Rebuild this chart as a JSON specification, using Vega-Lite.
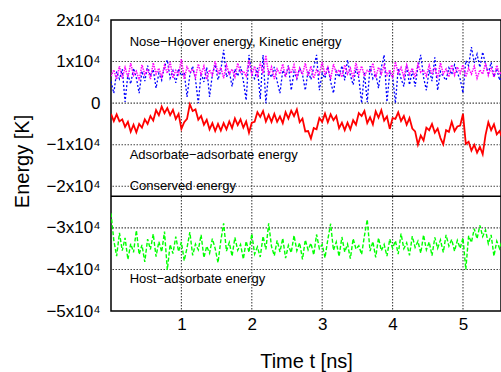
{
  "$schema": "https://vega.github.io/schema/vega-lite/v6.json",
  "autosize": "none",
  "padding": {"left": 111, "top": 20, "right": 0, "bottom": 61},
  "width": 390,
  "height": 291,
  "config": {
    "font": "Liberation Sans",
    "view": {"stroke": "#000000", "strokeWidth": 1.5},
    "axis": {
      "labelFont": "Liberation Sans", "titleFont": "Liberation Sans",
      "labelColor": "#000000", "titleColor": "#000000",
      "labelFontSize": 17, "titleFontSize": 20, "titleFontWeight": "normal",
      "domain": false, "grid": false, "ticks": false, "tickSize": 0
    }
  },
  "datasets": {
    "series": [
      {"t":0.00,"nh":5200,"ke":6500,"aa":-2600,"ha":-26500},
      {"t":0.04,"nh":2400,"ke":8000,"aa":-4300,"ha":-33000},
      {"t":0.08,"nh":7600,"ke":5700,"aa":-2700,"ha":-36800},
      {"t":0.12,"nh":5800,"ke":8900,"aa":-4400,"ha":-31200},
      {"t":0.16,"nh":8200,"ke":6000,"aa":-3900,"ha":-35500},
      {"t":0.20,"nh":300,"ke":8600,"aa":-5700,"ha":-32400},
      {"t":0.24,"nh":6900,"ke":6200,"aa":-4500,"ha":-37600},
      {"t":0.28,"nh":4600,"ke":9600,"aa":-6900,"ha":-33800},
      {"t":0.32,"nh":8400,"ke":6700,"aa":-5200,"ha":-35900},
      {"t":0.36,"nh":6100,"ke":7700,"aa":-7000,"ha":-30600},
      {"t":0.40,"nh":2400,"ke":5500,"aa":-5000,"ha":-36400},
      {"t":0.44,"nh":7700,"ke":9200,"aa":-5900,"ha":-34100},
      {"t":0.48,"nh":5300,"ke":6900,"aa":-3900,"ha":-38200},
      {"t":0.52,"nh":9000,"ke":8200,"aa":-5000,"ha":-32700},
      {"t":0.56,"nh":6400,"ke":5800,"aa":-3100,"ha":-35200},
      {"t":0.60,"nh":8100,"ke":9700,"aa":-4200,"ha":-31500},
      {"t":0.64,"nh":3600,"ke":7000,"aa":-1700,"ha":-36900},
      {"t":0.68,"nh":7200,"ke":8400,"aa":-2900,"ha":-33300},
      {"t":0.72,"nh":5500,"ke":6300,"aa":-800,"ha":-35800},
      {"t":0.76,"nh":8800,"ke":9100,"aa":-2400,"ha":-30900},
      {"t":0.80,"nh":10400,"ke":7200,"aa":-1200,"ha":-40100},
      {"t":0.84,"nh":6000,"ke":9900,"aa":-2900,"ha":-34000},
      {"t":0.88,"nh":7800,"ke":6000,"aa":-1600,"ha":-36200},
      {"t":0.92,"nh":4900,"ke":7900,"aa":-3800,"ha":-32100},
      {"t":0.96,"nh":8300,"ke":6900,"aa":-2600,"ha":-35700},
      {"t":1.00,"nh":6600,"ke":10600,"aa":-6200,"ha":-33400},
      {"t":1.04,"nh":7400,"ke":5800,"aa":-4600,"ha":-37900},
      {"t":1.08,"nh":1500,"ke":8700,"aa":-3800,"ha":-34800},
      {"t":1.12,"nh":6800,"ke":7400,"aa":-300,"ha":-31000},
      {"t":1.16,"nh":8900,"ke":8200,"aa":-1900,"ha":-36600},
      {"t":1.20,"nh":5700,"ke":6200,"aa":-1500,"ha":-33900},
      {"t":1.24,"nh":0,"ke":9400,"aa":-4000,"ha":-35300},
      {"t":1.28,"nh":7300,"ke":6900,"aa":-3100,"ha":-31700},
      {"t":1.32,"nh":5100,"ke":8900,"aa":-5200,"ha":-37200},
      {"t":1.36,"nh":8600,"ke":5700,"aa":-4000,"ha":-34400},
      {"t":1.40,"nh":1500,"ke":8000,"aa":-6300,"ha":-36100},
      {"t":1.44,"nh":6900,"ke":6700,"aa":-4800,"ha":-32600},
      {"t":1.48,"nh":9300,"ke":10100,"aa":-6700,"ha":-35000},
      {"t":1.52,"nh":5600,"ke":7200,"aa":-5000,"ha":-38400},
      {"t":1.56,"nh":7900,"ke":8600,"aa":-6600,"ha":-33100},
      {"t":1.60,"nh":12800,"ke":6000,"aa":-4800,"ha":-28900},
      {"t":1.64,"nh":6300,"ke":9200,"aa":-6300,"ha":-35600},
      {"t":1.68,"nh":7700,"ke":7000,"aa":-4400,"ha":-33500},
      {"t":1.72,"nh":4000,"ke":8200,"aa":-6000,"ha":-36800},
      {"t":1.76,"nh":8200,"ke":6300,"aa":-3700,"ha":-32300},
      {"t":1.80,"nh":6500,"ke":9600,"aa":-5300,"ha":-35400},
      {"t":1.84,"nh":8800,"ke":7400,"aa":-3900,"ha":-34000},
      {"t":1.88,"nh":5400,"ke":7700,"aa":-5900,"ha":-37500},
      {"t":1.92,"nh":700,"ke":6500,"aa":-4400,"ha":-33200},
      {"t":1.96,"nh":11600,"ke":10300,"aa":-7100,"ha":-35900},
      {"t":2.00,"nh":7000,"ke":6900,"aa":-4700,"ha":-31400},
      {"t":2.04,"nh":5900,"ke":8900,"aa":-4500,"ha":-36300},
      {"t":2.08,"nh":8500,"ke":6200,"aa":-2200,"ha":-34600},
      {"t":2.12,"nh":1000,"ke":9700,"aa":-3300,"ha":-37000},
      {"t":2.16,"nh":11600,"ke":7200,"aa":-1900,"ha":-32000},
      {"t":2.20,"nh":0,"ke":11500,"aa":-4400,"ha":-35200},
      {"t":2.24,"nh":7600,"ke":6700,"aa":-2800,"ha":-28900},
      {"t":2.28,"nh":6200,"ke":8700,"aa":-4500,"ha":-34500},
      {"t":2.32,"nh":8700,"ke":5800,"aa":-2600,"ha":-36700},
      {"t":2.36,"nh":5300,"ke":8200,"aa":-4500,"ha":-33000},
      {"t":2.40,"nh":2400,"ke":7000,"aa":-3200,"ha":-35800},
      {"t":2.44,"nh":7900,"ke":9400,"aa":-4800,"ha":-32500},
      {"t":2.48,"nh":6400,"ke":6300,"aa":-2200,"ha":-37300},
      {"t":2.52,"nh":9100,"ke":8600,"aa":-3700,"ha":-34200},
      {"t":2.56,"nh":3100,"ke":7200,"aa":-1800,"ha":-36000},
      {"t":2.60,"nh":7500,"ke":9200,"aa":-3100,"ha":-31800},
      {"t":2.64,"nh":5800,"ke":6200,"aa":-1500,"ha":-35500},
      {"t":2.68,"nh":8400,"ke":8400,"aa":-4600,"ha":-33600},
      {"t":2.72,"nh":6900,"ke":6900,"aa":-3700,"ha":-37600},
      {"t":2.76,"nh":3100,"ke":9600,"aa":-6800,"ha":-32900},
      {"t":2.80,"nh":7800,"ke":6500,"aa":-6700,"ha":-35300},
      {"t":2.84,"nh":5700,"ke":8900,"aa":-8500,"ha":-33700},
      {"t":2.88,"nh":8600,"ke":6000,"aa":-6000,"ha":-36500},
      {"t":2.92,"nh":11600,"ke":8000,"aa":-6300,"ha":-31600},
      {"t":2.96,"nh":3100,"ke":7000,"aa":-3600,"ha":-35000},
      {"t":3.00,"nh":7200,"ke":9900,"aa":-4500,"ha":-34000},
      {"t":3.04,"nh":6000,"ke":6700,"aa":-2500,"ha":-37200},
      {"t":3.08,"nh":8800,"ke":8600,"aa":-4600,"ha":-32800},
      {"t":3.12,"nh":5200,"ke":5800,"aa":-2700,"ha":-29000},
      {"t":3.16,"nh":2400,"ke":9400,"aa":-4100,"ha":-35400},
      {"t":3.20,"nh":7700,"ke":7200,"aa":-3100,"ha":-33400},
      {"t":3.24,"nh":6300,"ke":8000,"aa":-6000,"ha":-36900},
      {"t":3.28,"nh":9000,"ke":6300,"aa":-4700,"ha":-32200},
      {"t":3.32,"nh":5500,"ke":9200,"aa":-6500,"ha":-35800},
      {"t":3.36,"nh":10400,"ke":7000,"aa":-4700,"ha":-33900},
      {"t":3.40,"nh":6700,"ke":8400,"aa":-6300,"ha":-37400},
      {"t":3.44,"nh":4400,"ke":6000,"aa":-4100,"ha":-32600},
      {"t":3.48,"nh":8300,"ke":9700,"aa":-5200,"ha":-35100},
      {"t":3.52,"nh":6100,"ke":6900,"aa":-2400,"ha":-34300},
      {"t":3.56,"nh":0,"ke":8900,"aa":-3100,"ha":-36400},
      {"t":3.60,"nh":7400,"ke":6500,"aa":-1900,"ha":-31900},
      {"t":3.64,"nh":200,"ke":7900,"aa":-4800,"ha":-28000},
      {"t":3.68,"nh":8900,"ke":7400,"aa":-3400,"ha":-35600},
      {"t":3.72,"nh":5900,"ke":9600,"aa":-5100,"ha":-33300},
      {"t":3.76,"nh":7100,"ke":6200,"aa":-2000,"ha":-37100},
      {"t":3.80,"nh":3600,"ke":8600,"aa":-3500,"ha":-32400},
      {"t":3.84,"nh":8600,"ke":7000,"aa":-1700,"ha":-35500},
      {"t":3.88,"nh":11600,"ke":9100,"aa":-4200,"ha":-34000},
      {"t":3.92,"nh":300,"ke":6700,"aa":-3200,"ha":-36800},
      {"t":3.96,"nh":7300,"ke":8000,"aa":-6200,"ha":-32700},
      {"t":4.00,"nh":6600,"ke":6000,"aa":-3600,"ha":-34900},
      {"t":4.04,"nh":0,"ke":9900,"aa":-3800,"ha":-33100},
      {"t":4.08,"nh":8400,"ke":7200,"aa":-2200,"ha":-36300},
      {"t":4.12,"nh":5900,"ke":8600,"aa":-4300,"ha":-31400},
      {"t":4.16,"nh":4000,"ke":6300,"aa":-3100,"ha":-35000},
      {"t":4.20,"nh":9100,"ke":9200,"aa":-5200,"ha":-33600},
      {"t":4.24,"nh":4400,"ke":6900,"aa":-3600,"ha":-36600},
      {"t":4.28,"nh":7800,"ke":8400,"aa":-6100,"ha":-32000},
      {"t":4.32,"nh":4000,"ke":6200,"aa":-6800,"ha":-34700},
      {"t":4.36,"nh":8700,"ke":9400,"aa":-10000,"ha":-33200},
      {"t":4.40,"nh":11600,"ke":7400,"aa":-7800,"ha":-36100},
      {"t":4.44,"nh":6200,"ke":7900,"aa":-9000,"ha":-31700},
      {"t":4.48,"nh":3100,"ke":6500,"aa":-5900,"ha":-35300},
      {"t":4.52,"nh":8000,"ke":9100,"aa":-6500,"ha":-33400},
      {"t":4.56,"nh":5300,"ke":6900,"aa":-5000,"ha":-36700},
      {"t":4.60,"nh":11000,"ke":8600,"aa":-7100,"ha":-32300},
      {"t":4.64,"nh":3100,"ke":6000,"aa":-6100,"ha":-34900},
      {"t":4.68,"nh":7600,"ke":9700,"aa":-8400,"ha":-32900},
      {"t":4.72,"nh":6400,"ke":7000,"aa":-9900,"ha":-35900},
      {"t":4.76,"nh":5500,"ke":8200,"aa":-6500,"ha":-31700},
      {"t":4.80,"nh":8500,"ke":6300,"aa":-6900,"ha":-34400},
      {"t":4.84,"nh":6900,"ke":9200,"aa":-4500,"ha":-32800},
      {"t":4.88,"nh":9200,"ke":6700,"aa":-6700,"ha":-35600},
      {"t":4.92,"nh":7200,"ke":8700,"aa":-5600,"ha":-33000},
      {"t":4.96,"nh":5800,"ke":7200,"aa":-5400,"ha":-34900},
      {"t":5.00,"nh":2400,"ke":9200,"aa":-2600,"ha":-32400},
      {"t":5.04,"nh":10200,"ke":6300,"aa":-9800,"ha":-40000},
      {"t":5.08,"nh":9000,"ke":8400,"aa":-9300,"ha":-31900},
      {"t":5.12,"nh":13500,"ke":7000,"aa":-11400,"ha":-33500},
      {"t":5.16,"nh":9700,"ke":8900,"aa":-10000,"ha":-30200},
      {"t":5.20,"nh":11800,"ke":6000,"aa":-11900,"ha":-32600},
      {"t":5.24,"nh":8600,"ke":8000,"aa":-10500,"ha":-29400},
      {"t":5.28,"nh":12300,"ke":7000,"aa":-12300,"ha":-32100},
      {"t":5.32,"nh":9300,"ke":9600,"aa":-7700,"ha":-30500},
      {"t":5.36,"nh":7200,"ke":6700,"aa":-4600,"ha":-33800},
      {"t":5.40,"nh":9800,"ke":8600,"aa":-6500,"ha":-31700},
      {"t":5.44,"nh":6300,"ke":6200,"aa":-5100,"ha":-36800},
      {"t":5.48,"nh":8300,"ke":9100,"aa":-7500,"ha":-33200},
      {"t":5.52,"nh":5500,"ke":6900,"aa":-6700,"ha":-35000},
      {"t":5.56,"nh":7700,"ke":8000,"aa":-8500,"ha":-32700}
    ],
    "labels": [
      {"t": 0.265, "v": 14700, "label": "Nose−Hoover energy, Kinetic energy"},
      {"t": 0.265, "v": -12500, "label": "Adsorbate−adsorbate energy"},
      {"t": 0.265, "v": -19900, "label": "Conserved energy"},
      {"t": 0.265, "v": -42200, "label": "Host−adsorbate energy"}
    ],
    "conserved": [{"v": -22380}],
    "gridx": [{"g": 1}, {"g": 2}, {"g": 3}, {"g": 4}, {"g": 5}],
    "gridy": [{"g": -40000}, {"g": -30000}, {"g": -20000}, {"g": -10000}, {"g": 0}, {"g": 10000}]
  },
  "layer": [
    {
      "data": {"name": "gridx"},
      "mark": {"type": "rule", "color": "#444444", "strokeWidth": 1.1, "strokeDash": [1.5, 1.5]},
      "encoding": {
        "x": {"field": "g", "type": "quantitative", "scale": {"domain": [0, 5.54], "nice": false, "zero": false},
          "axis": {"title": "Time t [ns]", "values": [1, 2, 3, 4, 5], "format": "d", "labelPadding": 5, "titleY": 56, "titleBaseline": "alphabetic"}}
      }
    },
    {
      "data": {"name": "gridy"},
      "mark": {"type": "rule", "color": "#444444", "strokeWidth": 1.1, "strokeDash": [1.5, 1.5]},
      "encoding": {
        "y": {"field": "g", "type": "quantitative", "scale": {"domain": [-50000, 20000], "nice": false},
          "axis": {"title": "Energy [K]", "values": [-50000, -40000, -30000, -20000, -10000, 0, 10000, 20000],
            "labelExpr": "datum.value == 0 ? '0' : format(datum.value / 10000, 'd') + 'x10⁴'",
            "labelPadding": 11, "titleX": -89, "titleY": 141, "titleBaseline": "middle", "titleAlign": "center", "titleAngle": -90}}
      }
    },
    {
      "data": {"name": "series"},
      "mark": {"type": "line", "color": "#0000ff", "strokeWidth": 1.3, "strokeDash": [2, 2], "clip": true},
      "encoding": {
        "x": {"field": "t", "type": "quantitative", "title": "Time t [ns]"},
        "y": {"field": "nh", "type": "quantitative", "title": "Energy [K]"}
      }
    },
    {
      "data": {"name": "series"},
      "mark": {"type": "line", "color": "#ff00ff", "strokeWidth": 1.5, "strokeDash": [1.5, 1], "clip": true},
      "encoding": {
        "x": {"field": "t", "type": "quantitative", "title": "Time t [ns]"},
        "y": {"field": "ke", "type": "quantitative", "title": "Energy [K]"}
      }
    },
    {
      "data": {"name": "series"},
      "mark": {"type": "line", "color": "#ff0000", "strokeWidth": 1.8, "clip": true},
      "encoding": {
        "x": {"field": "t", "type": "quantitative", "title": "Time t [ns]"},
        "y": {"field": "aa", "type": "quantitative", "title": "Energy [K]"}
      }
    },
    {
      "data": {"name": "series"},
      "mark": {"type": "line", "color": "#00ff00", "strokeWidth": 1.4, "strokeDash": [4, 2], "clip": true},
      "encoding": {
        "x": {"field": "t", "type": "quantitative", "title": "Time t [ns]"},
        "y": {"field": "ha", "type": "quantitative", "title": "Energy [K]"}
      }
    },
    {
      "data": {"name": "conserved"},
      "mark": {"type": "rule", "color": "#000000", "strokeWidth": 1.5},
      "encoding": {
        "y": {"field": "v", "type": "quantitative", "title": "Energy [K]"}
      }
    },
    {
      "data": {"name": "labels"},
      "mark": {"type": "text", "align": "left", "baseline": "middle", "fontSize": 13, "color": "#000000", "font": "Liberation Sans"},
      "encoding": {
        "x": {"field": "t", "type": "quantitative", "title": "Time t [ns]"},
        "y": {"field": "v", "type": "quantitative", "title": "Energy [K]"},
        "text": {"field": "label"}
      }
    }
  ]
}
